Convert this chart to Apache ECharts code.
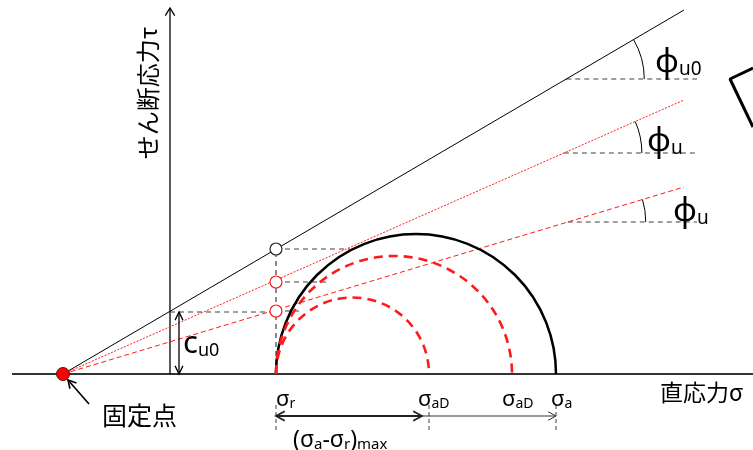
<!DOCTYPE html>
<html><head><meta charset="utf-8">
<script src="https://cdn.jsdelivr.net/npm/echarts@6/dist/echarts.min.js"></script>
<style>html,body{margin:0;padding:0;background:#fff}#c{width:753px;height:450px}</style>
</head><body><div id="c"></div>
<script>
// ---- data: σ measured to the right of the τ axis, τ measured up from the σ axis ----
const fixedPoint = [-107, 0];
const sigmaR = 106;
const sigmaAD = [259, 342];
const sigmaA = 386;
const cu0 = 62;
const envelopeEndSigma = 514;
const envelopeEndTau = [364, 274, 187];      // φu0 (black), φu (red dotted), φu (red dashed)
const markerTau = [125, 92, 63];
const markerLeaderEnd = [180, 157, 132];
const phiBaseTau = [295, 221, 152];
const phiBaseEnd = 527;
const phiArcRadius = 78;
const phiSubscripts = ['u0', 'u', 'u'];
const sigmaAxisRange = [-158, 583];
const tauAxisTop = 366;
const dimTau = -42;
const dimMid = 252;
const tickRange = [-31, -59];
const sigmaTickLabels = [['σ', 'r'], ['σ', 'aD'], ['σ', 'aD'], ['σ', 'a']];
const axisTitleSigma = '直応力σ';
const axisTitleTau = 'せん断応力τ';
const fixedPointLabel = '固定点';
const cLabel = ['c', 'u0'];
const dimLabel = ['(σ', 'a', '-σ', 'r', ')', 'max'];

const LAT = "'Noto Sans','DejaVu Sans',sans-serif";
const CJK = "'Noto Sans CJK JP','Noto Sans',sans-serif";

const chart = echarts.init(document.getElementById('c'), null, {renderer: 'canvas'});
const series = [];
function seg(pts, color, width, dash, z) {
  series.push({type: 'line', data: pts, symbol: 'none', silent: true, z: z || 2, clip: false,
    lineStyle: {color: color, width: width, type: dash || 'solid', cap: 'butt'}});
}

// axes
seg([[sigmaAxisRange[0], 0], [sigmaAxisRange[1], 0]], '#333', 2);
seg([[0, 0], [0, tauAxisTop]], '#000', 1.3);

// strength envelopes through the fixed point
const envColor = ['#000', '#ff1a1a', '#ff1a1a'];
const envDash = ['solid', [2, 1.5], [5, 3]];
envelopeEndTau.forEach((t, i) => seg([fixedPoint, [envelopeEndSigma, t]], envColor[i], 1, envDash[i], 3));

// leaders from markers
markerTau.forEach((t, i) => seg([[sigmaR, t], [markerLeaderEnd[i], t]], '#404040', 1.2, [5, 4]));
seg([[sigmaR, 0], [sigmaR, markerTau[0]]], '#404040', 1.2, [5, 4]);
seg([[0, cu0], [sigmaR, cu0]], '#404040', 1.2, [5, 4]);
[sigmaR, sigmaAD[0], sigmaA].forEach(x => seg([[x, tickRange[0]], [x, tickRange[1]]], '#404040', 1, [4, 3]));

// φ baselines
phiBaseTau.forEach((t, i) => {
  const x0 = fixedPoint[0] + t * (envelopeEndSigma - fixedPoint[0]) / envelopeEndTau[i];
  seg([[x0, t], [phiBaseEnd, t]], '#404040', 1.2, [5, 4]);
});

// partial box at right edge
seg([[583, 306], [560, 295], [583, 247]], '#000', 3);

// Mohr semicircles
const circleData = [[sigmaR, sigmaA], [sigmaR, sigmaAD[1]], [sigmaR, sigmaAD[0]]];
const circleStyle = [
  {stroke: '#000', lineWidth: 2.5},
  {stroke: '#ff1a1a', lineWidth: 2.6, lineDash: [9, 6]},
  {stroke: '#ff1a1a', lineWidth: 2.6, lineDash: [9, 6]}
];
series.push({type: 'custom', data: circleData, silent: true, z: 4, clip: false,
  renderItem: function (p, api) {
    const a = api.value(0), b = api.value(1);
    const c = api.coord([(a + b) / 2, 0]);
    const r = api.size([(b - a) / 2, 0])[0];
    return {type: 'arc', shape: {cx: c[0], cy: c[1], r: r, startAngle: Math.PI, endAngle: 2 * Math.PI, clockwise: true},
      style: Object.assign({fill: 'none'}, circleStyle[p.dataIndex])};
  }});

// φ angle arcs
series.push({type: 'custom', data: phiBaseTau.map((t, i) => [t, envelopeEndTau[i]]), silent: true, z: 4, clip: false,
  renderItem: function (p, api) {
    const t = api.value(0), te = api.value(1);
    const run = envelopeEndSigma - fixedPoint[0];
    const x0 = fixedPoint[0] + t * run / te;
    const c = api.coord([x0, t]);
    const r = api.size([phiArcRadius, 0])[0];
    const ang = Math.atan2(te, run);
    return {type: 'arc', shape: {cx: c[0], cy: c[1], r: r, startAngle: -ang, endAngle: 0, clockwise: true},
      style: {fill: 'none', stroke: '#000', lineWidth: 1}};
  }});

// arrows (open heads)
function headLines(p1, p2, len, half) {
  const dx = p1[0] - p2[0], dy = p1[1] - p2[1];
  const L = Math.sqrt(dx * dx + dy * dy);
  const ux = dx / L, uy = dy / L;
  const out = [];
  [half, -half].forEach(a => {
    const cs = Math.cos(a), sn = Math.sin(a);
    out.push([p2[0] + len * (ux * cs - uy * sn), p2[1] + len * (ux * sn + uy * cs)]);
  });
  return out;
}
const arrowData = [
  // x1, y1, x2, y2, headAtStart, headAtEnd
  [0, 0, 0, tauAxisTop, 0, 1],
  [9, 0, 9, cu0, 1, 1],
  [sigmaR, dimTau, dimMid, dimTau, 1, 1],
  [dimMid, dimTau, sigmaA, dimTau, 0, 1],
  [-81, -30, -102, -6, 0, 1]
];
const arrowStyle = [
  {stroke: '#000', lineWidth: 1.3, len: 9, half: 0.55, body: false},
  {stroke: '#000', lineWidth: 1.3, len: 9, half: 0.45, body: true},
  {stroke: '#222', lineWidth: 1.8, len: 10, half: 0.5, body: true},
  {stroke: '#333', lineWidth: 1, len: 9, half: 0.5, body: true},
  {stroke: '#000', lineWidth: 1.6, len: 9, half: 0.5, body: true}
];
series.push({type: 'custom', data: arrowData, silent: true, z: 5, clip: false,
  renderItem: function (p, api) {
    const s = arrowStyle[p.dataIndex];
    const a = api.coord([api.value(0), api.value(1)]);
    const b = api.coord([api.value(2), api.value(3)]);
    const children = [];
    const st = {stroke: s.stroke, lineWidth: s.lineWidth, fill: 'none'};
    if (s.body) children.push({type: 'line', shape: {x1: a[0], y1: a[1], x2: b[0], y2: b[1]}, style: st});
    if (api.value(5)) { const h = headLines(a, b, s.len, s.half); children.push({type: 'polyline', shape: {points: [h[0], b, h[1]]}, style: st}); }
    if (api.value(4)) { const h = headLines(b, a, s.len, s.half); children.push({type: 'polyline', shape: {points: [h[0], a, h[1]]}, style: st}); }
    return {type: 'group', children: children};
  }});

// fixed point and markers
const markerBorder = ['#222', '#ff1a1a', '#ff1a1a'];
series.push({type: 'scatter', data: [fixedPoint], symbolSize: 13, z: 6, silent: true,
  itemStyle: {color: '#ff0000', borderColor: '#5a1010', borderWidth: 1, opacity: 1}});
series.push({type: 'scatter', symbolSize: 12, z: 6, silent: true,
  data: markerTau.map((t, i) => ({value: [sigmaR, t], itemStyle: {color: '#fff', opacity: 1, borderWidth: 1.2, borderColor: markerBorder[i]}}))});

// texts
function rich2(mainSize, subSize, mainLH, subLH, fam) {
  return {m: {fontSize: mainSize, fontFamily: fam, lineHeight: mainLH, verticalAlign: 'bottom', color: '#000'},
          s: {fontSize: subSize, fontFamily: fam, lineHeight: subLH, verticalAlign: 'bottom', color: '#000'}};
}
const texts = [];
phiSubscripts.forEach((sub, i) => {
  const pos = [[485, 315], [477, 236], [503, 166]][i];
  texts.push({pos: pos, text: '{m|ϕ}{s|' + sub + '}', rich: rich2(33, 19, 40, 15, LAT)});
});
texts.push({pos: [13, 32], text: '{m|' + cLabel[0] + '}{s|' + cLabel[1] + '}', rich: rich2(31, 18, 36, 18, LAT)});
const tickX = [sigmaR, 248, 332, 381];
sigmaTickLabels.forEach((lb, i) => texts.push({pos: [tickX[i], -22], text: '{m|' + lb[0] + '}{s|' + lb[1] + '}', rich: rich2(22, 14, 30, 22, LAT)}));
texts.push({pos: [123, -63], text: '{m|' + dimLabel[0] + '}{s|' + dimLabel[1] + '}{m|' + dimLabel[2] + '}{s|' + dimLabel[3] + '}{m|' + dimLabel[4] + '}{s|' + dimLabel[5] + '}',
  rich: rich2(23, 15, 30, 22, LAT)});
texts.push({pos: [490, -18], text: '{m|' + axisTitleSigma + '}', rich: {m: {fontSize: 23, fontFamily: CJK, color: '#000'}}});
texts.push({pos: [-68, -41], text: '{m|' + fixedPointLabel + '}', rich: {m: {fontSize: 25, fontFamily: CJK, color: '#000'}}});
texts.push({pos: [-22, 281], text: '{m|' + axisTitleTau + '}', rich: {m: {fontSize: 24, fontFamily: CJK, color: '#000'}}, rot: Math.PI / 2, align: 'center'});

series.push({type: 'custom', data: texts.map(t => t.pos), silent: true, z: 7, clip: false,
  renderItem: function (p, api) {
    const t = texts[p.dataIndex];
    const c = api.coord([api.value(0), api.value(1)]);
    return {type: 'text', x: c[0], y: c[1], rotation: t.rot || 0,
      style: {text: t.text, rich: t.rich, fill: '#000', align: t.align || 'left', verticalAlign: 'middle'}};
  }});

chart.setOption({
  animation: false,
  backgroundColor: '#fff',
  grid: {left: 0, right: 0, top: 0, bottom: 0},
  xAxis: {type: 'value', min: -170, max: 583, show: false},
  yAxis: {type: 'value', min: -76, max: 374, show: false},
  series: series
});
</script></body></html>
